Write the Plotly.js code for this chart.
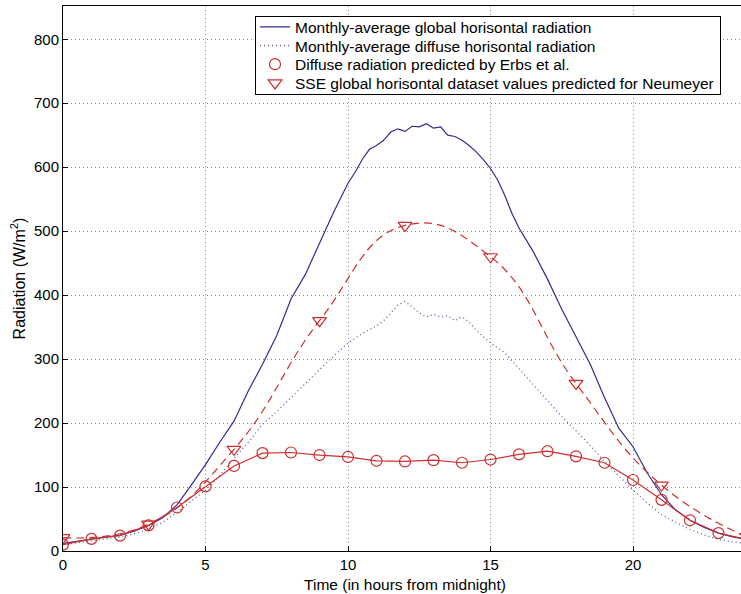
<!DOCTYPE html>
<html>
<head>
<meta charset="utf-8">
<script src="https://cdn.plot.ly/plotly-3.0.1.min.js"></script>
<style>
html,body{margin:0;padding:0;overflow:hidden;background:#fff;}
#chart{width:760px;height:594px;}
</style>
</head>
<body>
<div id="chart"></div>
<script>
// Monthly-average global horizontal radiation (W/m^2)
const globalHours = [0,0.5,1,1.5,2,2.5,3,3.5,4,4.5,5,5.5,6,6.5,7,7.5,8,8.5,9,9.5,10,10.25,10.5,10.75,11,11.25,11.5,11.75,12,12.25,12.5,12.75,13,13.25,13.5,13.75,14,14.25,14.5,14.75,15,15.25,15.5,15.75,16,16.5,17,17.5,18,18.5,19,19.5,20,20.5,21,21.5,22,22.5,23,23.5,24];
const globalValues = [12,15,18,21,25,31,40,52,72,103,135,170,203,250,292,337,394,432,480,530,575,592,612,628,634,642,655,660,656,664,663,668,661,663,650,648,642,634,624,612,598,580,556,528,505,468,425,378,335,292,240,192,163,122,88,64,48,37,28,22,18];

// Monthly-average diffuse horizontal radiation (W/m^2)
const diffuseHours = [0,0.5,1,1.5,2,2.5,3,3.5,4,4.5,5,5.5,6,6.5,7,7.5,8,8.5,9,9.5,10,10.5,11,11.25,11.5,11.75,12,12.25,12.5,12.75,13,13.25,13.5,13.75,14,14.25,14.5,14.75,15,15.5,16,16.5,17,17.5,18,18.5,19,19.5,20,20.5,21,21.5,22,22.5,23,23.5,24];
const diffuseValues = [10,13,16,19,22,27,34,45,60,78,95,118,145,170,198,218,240,262,283,305,325,340,352,360,372,385,390,382,372,366,370,366,368,360,366,358,345,335,325,310,285,260,235,210,188,165,140,118,95,75,57,45,34,25,18,14,12];

// Diffuse radiation predicted by Erbs et al. (hourly)
const erbsHours = [0,1,2,3,4,5,6,7,8,9,10,11,12,13,14,15,16,17,18,19,20,21,22,23,24];
const erbsValues = [10,19,24,40,68,101,133,153,154,150,147,141,140,142,138,143,151,156,148,138,111,80,48,28,18];

// SSE global horizontal dataset values predicted for Neumeyer (3-hourly)
const sseHours = [0,3,6,9,12,15,18,21,24];
const sseValues = [21,42,159,360,509,460,262,103,22];

const xTicks = [0,5,10,15,20];
const yTicks = [0,100,200,300,400,500,600,700,800];

const names = [
  'Monthly-average global horisontal radiation',
  'Monthly-average diffuse horisontal radiation',
  'Diffuse radiation predicted by Erbs et al.',
  'SSE global horisontal dataset values predicted for Neumeyer'
];

const red = '#cc2f2f';
const FONT = 'Liberation Sans, Arial, Helvetica, sans-serif';

const traces = [
  {x: globalHours, y: globalValues, name: names[0], mode: 'lines',
   line: {color: '#2e2e8e', width: 1.2}, legendrank: 1},
  {x: diffuseHours, y: diffuseValues, name: names[1], mode: 'lines',
   line: {color: '#5a5aa8', width: 1.3, dash: '1px,3px'}, legendrank: 2},
  {x: sseHours, y: sseValues, name: names[3], mode: 'lines', showlegend: false,
   line: {color: red, width: 1.2, dash: '8px,5px', shape: 'spline', smoothing: 1.3}},
  {x: erbsHours, y: erbsValues, name: names[2], mode: 'lines', showlegend: false,
   line: {color: red, width: 1.2}},
  {x: erbsHours, y: erbsValues, name: names[2], mode: 'markers', legendrank: 3,
   marker: {symbol: 'circle-open', size: 11, color: red, line: {width: 1.2, color: red}}},
  {x: sseHours, y: sseValues, name: names[3], mode: 'markers', legendrank: 4,
   marker: {symbol: 'triangle-down-open', size: 12, color: red, line: {width: 1.2, color: red}}}
];

const axisCommon = {
  showline: true, mirror: true, linecolor: '#000', linewidth: 1,
  ticks: 'inside', ticklen: 5, tickcolor: '#000', tickwidth: 1,
  showgrid: true, gridcolor: '#8a8a8a', gridwidth: 1, griddash: '1px,3px',
  zeroline: false,
  tickfont: {family: FONT, size: 15, color: '#000'}
};

const layout = {
  width: 760, height: 594,
  margin: {l: 63, r: 13, t: 6, b: 43},
  paper_bgcolor: '#fff', plot_bgcolor: '#fff',
  font: {family: FONT, size: 15, color: '#000'},
  showlegend: true,
  xaxis: Object.assign({}, axisCommon, {
    range: [0, 24], tickvals: xTicks, ticktext: xTicks.map(String),
    title: {text: 'Time (in hours from midnight)', standoff: 7,
            font: {family: FONT, size: 15.5, color: '#000'}}
  }),
  yaxis: Object.assign({}, axisCommon, {
    range: [0, 852], tickvals: yTicks, ticktext: yTicks.map(String),
    title: {text: 'Radiation (W/m<sup>2</sup>)', standoff: 4,
            font: {family: FONT, size: 16, color: '#000'}}
  }),
  legend: {
    x: 0.2807, y: 0.982, xanchor: 'left', yanchor: 'top',
    bgcolor: '#fff', bordercolor: '#000', borderwidth: 1,
    font: {family: FONT, size: 15.5, color: '#000'},
    tracegroupgap: 0, itemwidth: 30, traceorder: 'normal'
  }
};

const gd = document.getElementById('chart');
Plotly.newPlot(gd, traces, layout, {displayModeBar: false, staticPlot: true}).then(function () {
  // tighten legend row spacing to match the reference's compact legend
  const items = gd.querySelectorAll('.legend .traces');
  const rowH = 18.7;
  const first = 11;
  items.forEach(function (el, i) {
    el.setAttribute('transform', 'translate(0,' + (first + i * rowH) + ')');
  });
  const bg = gd.querySelector('.legend rect.bg');
  const newH = first + (items.length - 1) * rowH + 11;
  if (bg) bg.setAttribute('height', newH);
});
</script>
</body>
</html>
